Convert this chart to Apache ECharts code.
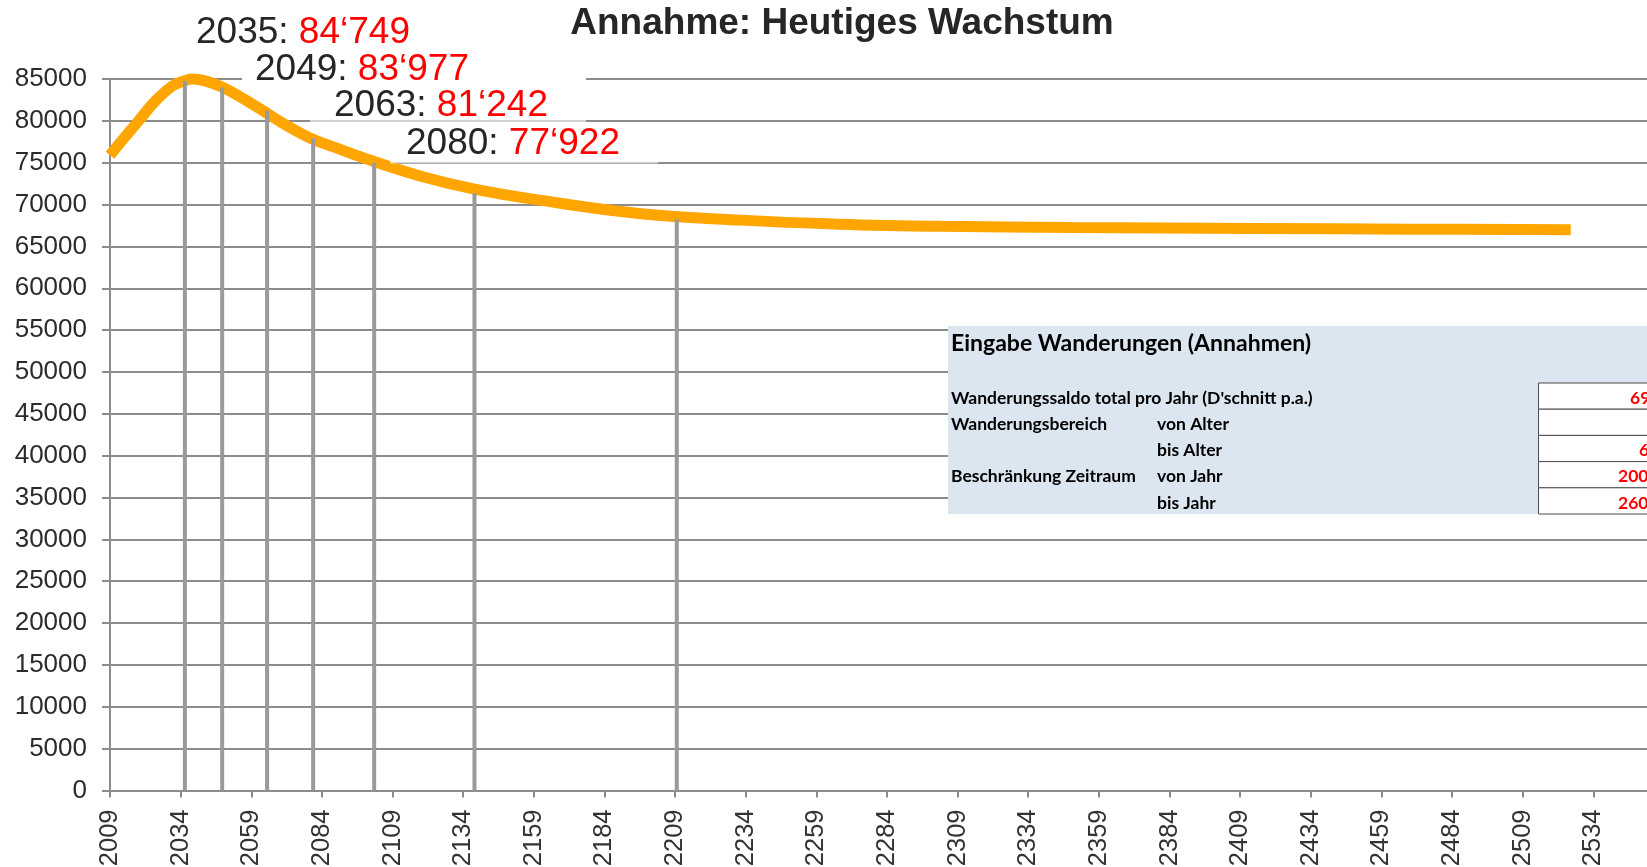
<!DOCTYPE html>
<html>
<head>
<meta charset="utf-8">
<title>Annahme: Heutiges Wachstum</title>
<script src="https://cdn.jsdelivr.net/npm/echarts@6/dist/echarts.min.js"></script>
<style>
  html, body { margin: 0; padding: 0; background: #fff; }
  #chart { width: 1647px; height: 867px; }
</style>
</head>
<body>
<div id="chart"></div>
<script>
// Bevoelkerungsverlauf (Jahr / Wert)
var baseYear = 2009;
var years = [2009, 2014, 2019, 2025, 2031, 2035, 2038, 2043, 2049, 2055, 2063, 2072, 2080, 2090, 2102, 2120, 2138, 2161, 2196, 2232, 2267, 2303, 2350, 2414, 2470, 2526];
var values = [75900, 77950, 79950, 82350, 84150, 84749, 85000, 84750, 83977, 82870, 81242, 79350, 77922, 76650, 75200, 73300, 71850, 70530, 68940, 68140, 67660, 67400, 67250, 67150, 67060, 67000];

// senkrechte Markierungslinien
var markYears = [2035.5, 2048.7, 2064.6, 2080.9, 2102.5, 2138, 2209.6];
var markTops = [84749, 83977, 81242, 77922, 74980, 71350, 68250];

// Beschriftungen
var labelYears = [2035, 2049, 2063, 2080];
var labelValues = [84749, 83977, 81242, 77922];

// Eingabe-Tabelle
var tableTitle = 'Eingabe Wanderungen (Annahmen)';
var tableCol1 = ['Wanderungssaldo total pro Jahr (D\'schnitt p.a.)', 'Wanderungsbereich', '', 'Beschränkung Zeitraum', ''];
var tableCol2 = ['', 'von Alter', 'bis Alter', 'von Jahr', 'bis Jahr'];
var tableValues = ['69', '', '6', '200', '260'];

var xMax = 544;
var gridColor = '#8c8c8c';

function fmt(v) {
    return String(v).replace(/\B(?=(\d{3})+(?!\d))/g, '\u2018');
}

var lineData = [];
for (var i = 0; i < years.length; i++) {
    lineData.push([years[i] - baseYear, values[i]]);
}
var markData = [];
for (var j = 0; j < markYears.length; j++) {
    markData.push([markYears[j] - baseYear, markTops[j]]);
}

var myChart = echarts.init(document.getElementById('chart'));

// Label-Positionen (links, Mitte)
var labelPos = [[196, 33], [255, 69.5], [334, 105.5], [406, 143.5]];
var graphics = [];

// weisse Kaesten hinter den Labels
graphics.push({ type: 'rect', z: 50, shape: { x: 242, y: 52, width: 344, height: 33 }, style: { fill: '#ffffff' } });
graphics.push({ type: 'rect', z: 50, shape: { x: 310, y: 89, width: 276, height: 35 }, style: { fill: 'rgba(255,255,255,0.6)' } });
graphics.push({ type: 'rect', z: 50, shape: { x: 390, y: 127, width: 268, height: 36.5 }, style: { fill: 'rgba(255,255,255,0.6)' } });

for (var k = 0; k < labelYears.length; k++) {
    graphics.push({
        type: 'text',
        z: 60,
        x: labelPos[k][0],
        y: labelPos[k][1],
        style: {
            text: '{a|' + labelYears[k] + ': }{b|' + fmt(labelValues[k]) + '}',
            verticalAlign: 'middle',
            align: 'left',
            rich: {
                a: { fontSize: 37, fontFamily: 'Liberation Sans, Arial', fill: '#262626' },
                b: { fontSize: 37, fontFamily: 'Liberation Sans, Arial', fill: '#ff0000' }
            }
        }
    });
}

// Titel
graphics.push({
    type: 'text',
    z: 60,
    x: 842,
    y: 24,
    style: {
        text: 'Annahme: Heutiges Wachstum',
        font: 'bold 37px "Liberation Sans", Arial',
        fill: '#262626',
        align: 'center',
        verticalAlign: 'middle'
    }
});

// Tabelle
graphics.push({ type: 'rect', z: 50, shape: { x: 948, y: 326, width: 700, height: 188 }, style: { fill: '#dce6f1' } });
graphics.push({
    type: 'text', z: 60, x: 951, y: 344,
    style: { text: tableTitle, font: 'bold 23px Lato, "Open Sans"', fill: '#000', verticalAlign: 'middle' }
});
var rowTop = 383, rowH = 26.2;
for (var r = 0; r < tableCol1.length; r++) {
    var cy = rowTop + r * rowH + rowH / 2 + 2;
    graphics.push({ type: 'text', z: 60, x: 951, y: cy, style: { text: tableCol1[r], font: 'bold 17.5px Lato, "Open Sans"', fill: '#000', verticalAlign: 'middle' } });
    graphics.push({ type: 'text', z: 60, x: 1157, y: cy, style: { text: tableCol2[r], font: 'bold 17.5px Lato, "Open Sans"', fill: '#000', verticalAlign: 'middle' } });
    graphics.push({ type: 'rect', z: 55, shape: { x: 1538.5, y: rowTop + r * rowH, width: 120, height: rowH }, style: { fill: '#fff', stroke: '#4d4d4d', lineWidth: 1 } });
}
var valueX = [1630, 1640, 1639, 1618, 1618];
for (var t = 0; t < tableValues.length; t++) {
    graphics.push({ type: 'text', z: 60, x: valueX[t], y: rowTop + t * rowH + rowH / 2 + 2, style: { text: tableValues[t], font: 'bold 17.5px Lato, "Open Sans"', fill: '#ff0000', verticalAlign: 'middle' } });
}

var option = {
    backgroundColor: '#ffffff',
    animation: false,
    grid: { left: 110, right: 0, top: 79, bottom: 76.5, outerBoundsMode: 'none', containLabel: false },
    xAxis: {
        type: 'value',
        min: 0,
        max: xMax,
        interval: 25,
        axisLine: { show: true, lineStyle: { color: gridColor, width: 2 } },
        axisTick: { show: true, length: 7, lineStyle: { color: gridColor, width: 2 } },
        axisLabel: {
            rotate: 90,
            margin: 19,
            fontSize: 25.5,
            fontFamily: 'Liberation Sans, Arial',
            color: '#333',
            showMaxLabel: false,
            formatter: function (v) {
                return (v % 25 === 0 && v <= 525) ? String(v + baseYear) : '';
            }
        },
        splitLine: { show: false }
    },
    yAxis: {
        type: 'value',
        min: 0,
        max: 85000,
        interval: 5000,
        axisLine: { show: true, lineStyle: { color: gridColor, width: 2 } },
        axisTick: { show: true, length: 8, lineStyle: { color: gridColor, width: 2 } },
        axisLabel: {
            margin: 23,
            fontSize: 26,
            fontFamily: 'Liberation Sans, Arial',
            color: '#2b2b2b',
            formatter: function (v) { return String(v); }
        },
        splitLine: { show: true, lineStyle: { color: gridColor, width: 2 } }
    },
    series: [
        {
            type: 'line',
            data: lineData,
            smooth: 0.4,
            showSymbol: false,
            clip: false,
            z: 2,
            lineStyle: { color: '#ffa500', width: 11 }
        },
        {
            type: 'custom',
            z: 3,
            clip: false,
            data: markData,
            renderItem: function (params, api) {
                var p0 = api.coord([api.value(0), 0]);
                var p1 = api.coord([api.value(0), api.value(1)]);
                return {
                    type: 'line',
                    shape: { x1: p0[0], y1: p0[1], x2: p1[0], y2: p1[1] },
                    style: { stroke: '#9a9a9a', lineWidth: 4 }
                };
            }
        }
    ],
    graphic: graphics
};
myChart.setOption(option);
</script>
</body>
</html>
